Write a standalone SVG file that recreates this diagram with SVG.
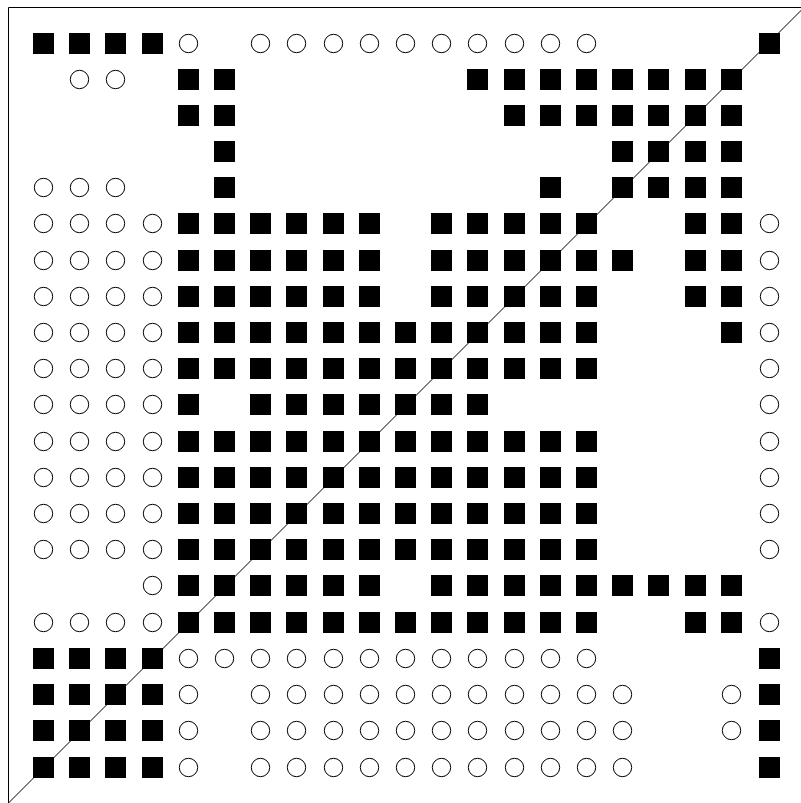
<svg xmlns="http://www.w3.org/2000/svg" xmlns:xlink="http://www.w3.org/1999/xlink" width="801" height="803" viewBox="0 0 801 803">
<style>
.sq{fill:#000}
.ci{fill:#fff;stroke:#000;stroke-width:1}
.ln{fill:none;stroke:#000;stroke-width:1}
</style>
<defs>
<rect id="s" class="sq" x="0" y="0" width="21" height="21"/>
<circle id="c" class="ci" cx="10.5" cy="10.5" r="9.2"/>
<g id="L4C"><use href="#c" x="33"/><use href="#c" x="69"/><use href="#c" x="105"/><use href="#c" x="142"/></g>
<g id="L4S"><use href="#s" x="33"/><use href="#s" x="69"/><use href="#s" x="105"/><use href="#s" x="142"/></g>
<g id="A6"><use href="#s" x="178"/><use href="#s" x="214"/><use href="#s" x="250"/><use href="#s" x="286"/><use href="#s" x="323"/><use href="#s" x="359"/></g>
<g id="B5"><use href="#s" x="431"/><use href="#s" x="467"/><use href="#s" x="504"/><use href="#s" x="540"/><use href="#s" x="576"/></g>
<g id="M12"><use href="#A6"/><use href="#s" x="395"/><use href="#B5"/></g>
<g id="C10"><use href="#c" x="250"/><use href="#c" x="286"/><use href="#c" x="323"/><use href="#c" x="359"/><use href="#c" x="395"/><use href="#c" x="431"/><use href="#c" x="467"/><use href="#c" x="504"/><use href="#c" x="540"/><use href="#c" x="576"/></g>
<g id="rowA"><use href="#L4C"/><use href="#M12"/><use href="#c" x="759"/></g>
<g id="rowLow"><use href="#L4S"/><use href="#c" x="178"/><use href="#C10"/><use href="#c" x="612"/><use href="#s" x="759"/></g>
</defs>
<g id="frame">
<path class="ln" d="M8.5,803 V7.5 H801"/>
<path class="ln" d="M8.5,803 L803.5,8"/>
</g>
<g id="matrix">
<g id="r0" transform="translate(0,33)"><use href="#L4S"/><use href="#c" x="178"/><use href="#C10"/><use href="#s" x="759"/></g>
<g id="r1" transform="translate(0,69)"><use href="#c" x="69"/><use href="#c" x="105"/><use href="#s" x="178"/><use href="#s" x="214"/><use href="#s" x="467"/><use href="#s" x="504"/><use href="#s" x="540"/><use href="#s" x="576"/><use href="#s" x="612"/><use href="#s" x="648"/><use href="#s" x="685"/><use href="#s" x="721"/></g>
<g id="r2" transform="translate(0,105)"><use href="#s" x="178"/><use href="#s" x="214"/><use href="#s" x="504"/><use href="#s" x="540"/><use href="#s" x="576"/><use href="#s" x="612"/><use href="#s" x="648"/><use href="#s" x="685"/><use href="#s" x="721"/></g>
<g id="r3" transform="translate(0,141)"><use href="#s" x="214"/><use href="#s" x="612"/><use href="#s" x="648"/><use href="#s" x="685"/><use href="#s" x="721"/></g>
<g id="r4" transform="translate(0,177)"><use href="#c" x="33"/><use href="#c" x="69"/><use href="#c" x="105"/><use href="#s" x="214"/><use href="#s" x="540"/><use href="#s" x="612"/><use href="#s" x="648"/><use href="#s" x="685"/><use href="#s" x="721"/></g>
<g id="r5" transform="translate(0,213)"><use href="#L4C"/><use href="#A6"/><use href="#B5"/><use href="#s" x="685"/><use href="#s" x="721"/><use href="#c" x="759"/></g>
<g id="r6" transform="translate(0,250)"><use href="#L4C"/><use href="#A6"/><use href="#B5"/><use href="#s" x="612"/><use href="#s" x="685"/><use href="#s" x="721"/><use href="#c" x="759"/></g>
<g id="r7" transform="translate(0,286)"><use href="#L4C"/><use href="#A6"/><use href="#B5"/><use href="#s" x="685"/><use href="#s" x="721"/><use href="#c" x="759"/></g>
<g id="r8" transform="translate(0,322)"><use href="#rowA"/><use href="#s" x="721"/></g>
<g id="r9" transform="translate(0,358)"><use href="#rowA"/></g>
<g id="r10" transform="translate(0,394)"><use href="#L4C"/><use href="#s" x="178"/><use href="#s" x="250"/><use href="#s" x="286"/><use href="#s" x="323"/><use href="#s" x="359"/><use href="#s" x="395"/><use href="#s" x="431"/><use href="#s" x="467"/><use href="#c" x="759"/></g>
<g id="r11" transform="translate(0,431)"><use href="#rowA"/></g>
<g id="r12" transform="translate(0,467)"><use href="#rowA"/></g>
<g id="r13" transform="translate(0,503)"><use href="#rowA"/></g>
<g id="r14" transform="translate(0,539)"><use href="#rowA"/></g>
<g id="r15" transform="translate(0,575)"><use href="#c" x="142"/><use href="#A6"/><use href="#B5"/><use href="#s" x="612"/><use href="#s" x="648"/><use href="#s" x="685"/><use href="#s" x="721"/></g>
<g id="r16" transform="translate(0,612)"><use href="#rowA"/><use href="#s" x="685"/><use href="#s" x="721"/></g>
<g id="r17" transform="translate(0,648)"><use href="#L4S"/><use href="#c" x="178"/><use href="#c" x="214"/><use href="#C10"/><use href="#s" x="759"/></g>
<g id="r18" transform="translate(0,684)"><use href="#rowLow"/><use href="#c" x="721"/></g>
<g id="r19" transform="translate(0,720)"><use href="#rowLow"/><use href="#c" x="721"/></g>
<g id="r20" transform="translate(0,757)"><use href="#rowLow"/></g>
</g>
</svg>
